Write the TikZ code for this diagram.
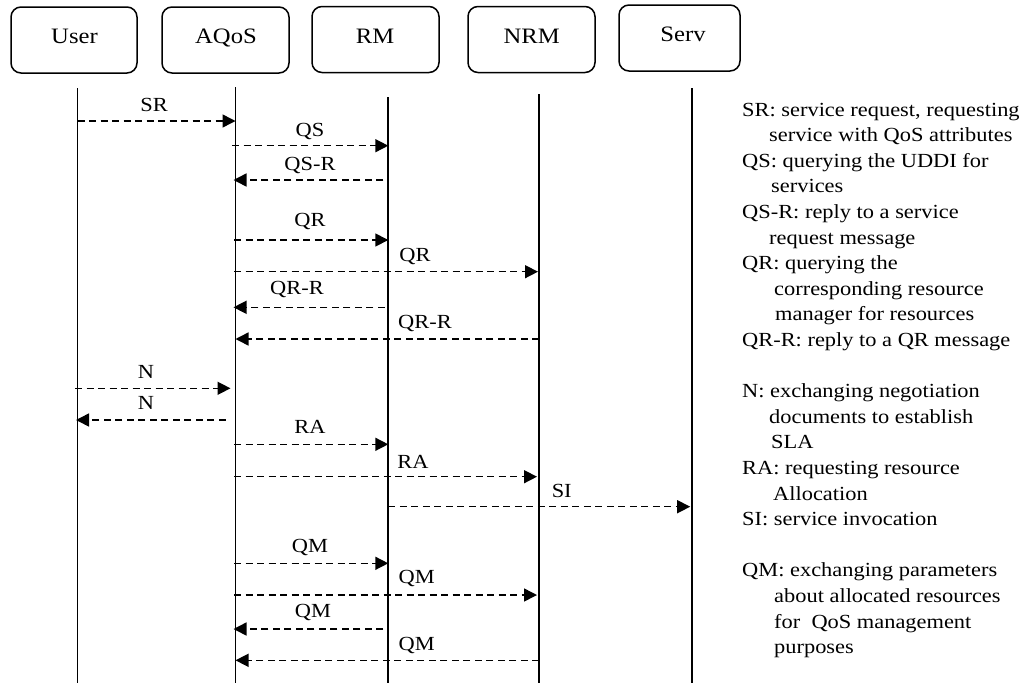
\documentclass[tikz,border=0pt]{standalone}
\usepackage{fontspec}
\setmainfont[FakeStretch=1.12]{Liberation Serif}
\usetikzlibrary{arrows.meta,calc}

\begin{document}
\begin{tikzpicture}[x=1pt,y=-1pt,
  actor/.style={draw, line width=1.5pt, rounded corners=10pt,
    minimum width=126pt, minimum height=66pt, inner sep=0pt},
  actortext/.style={anchor=base, font=\fontsize{22}{26}\selectfont, inner sep=0pt},
  lifeline/.style={line width=1.8pt},
  msg/.style={line width=1.5pt, dash pattern=on 7pt off 4.5pt,
    -{Triangle[length=13pt,width=13pt]}},
  msglabel/.style={anchor=base, font=\fontsize{20}{24}\selectfont, inner sep=0pt},
  legend/.style={anchor=base west, font=\fontsize{20}{24}\selectfont, inner sep=0pt}]

\useasboundingbox (0,0) rectangle (1024,683);

% participants
\node[actor] (userbox) at (74,40) {};
\node[actor, minimum width=127pt] (aqosbox) at (225.5,40) {};
\node[actor, minimum width=127pt] (rmbox) at (375.5,39.5) {};
\node[actor, minimum width=127pt] (nrmbox) at (531.5,39.5) {};
\node[actor, minimum width=121pt] (servbox) at (679.5,38) {};
\node[actortext] (user) at (74.5,43) {User};
\node[actortext] (aqos) at (226,43) {AQoS};
\node[actortext] (rm) at (375,43) {RM};
\node[actortext] (nrm) at (531.7,43) {NRM};
\node[actortext] (serv) at (683,41.5) {Serv};

% lifelines
\coordinate (uT) at (77.5,88);   \coordinate (uB) at (77.5,683);
\coordinate (aT) at (235.5,87);  \coordinate (aB) at (235.5,683);
\coordinate (rT) at (388.3,97);  \coordinate (rB) at (388.3,683);
\coordinate (nT) at (539,94);    \coordinate (nB) at (539,683);
\coordinate (sT) at (691.7,88);  \coordinate (sB) at (691.7,683);
\foreach \t/\b in {uT/uB,aT/aB,rT/rB,nT/nB,sT/sB}
  \draw[lifeline] (\t) -- (\b);

% messages
\draw[msg] (uT |- 0,121) -- (aT |- 0,121);
\node[msglabel] (lSR) at (154,111.7) {SR};

\draw[msg] ($(aT |- 0,145.7)+(-3.5,0)$) -- (rT |- 0,145.7);
\node[msglabel] (lQS) at (310,136.7) {QS};

\draw[msg] ($(rT |- 0,180)+(-5,0)$) -- ($(aT |- 0,180)+(-2,0)$);
\node[msglabel] (lQSR) at (310,170.7) {QS-R};

\draw[msg] ($(aT |- 0,240)+(-1.5,0)$) -- (rT |- 0,240);
\node[msglabel] (lQR1) at (310,226.7) {QR};

\draw[msg] ($(aT |- 0,271.7)+(-1.5,0)$) -- ($(nT |- 0,271.7)+(-1,0)$);
\node[msglabel] (lQR2) at (415,261.7) {QR};

\draw[msg] ($(rT |- 0,307.3)+(-3.5,0)$) -- ($(aT |- 0,307.3)+(-2,0)$);
\node[msglabel] (lQRR1) at (297,294.7) {QR-R};

\draw[msg] (nT |- 0,339) -- (aT |- 0,339);
\node[msglabel] (lQRR2) at (425,328.4) {QR-R};

\draw[msg] ($(uT |- 0,388.3)+(-2.5,0)$) -- ($(aT |- 0,388.3)+(-5,0)$);
\node[msglabel] (lN1) at (146,378.4) {N};

\draw[msg] ($(aT |- 0,420)+(-10,0)$) -- ($(uT |- 0,420)+(-1.5,0)$);
\node[msglabel] (lN2) at (146,409.7) {N};

\draw[msg] ($(aT |- 0,444.3)+(-1.5,0)$) -- (rT |- 0,444.3);
\node[msglabel] (lRA1) at (310,433.4) {RA};

\draw[msg] ($(aT |- 0,476.7)+(-1.5,0)$) -- ($(nT |- 0,476.7)+(-2,0)$);
\node[msglabel] (lRA2) at (413,468.4) {RA};

\draw[msg] (rT |- 0,506.7) -- ($(sT |- 0,506.7)+(-1.5,0)$);
\node[msglabel] (lSI) at (561.7,497.4) {SI};

\draw[msg] ($(aT |- 0,563.3)+(-1.5,0)$) -- (rT |- 0,563.3);
\node[msglabel] (lQM1) at (310,552.7) {QM};

\draw[msg] ($(aT |- 0,595)+(-1.5,0)$) -- ($(nT |- 0,595)+(-2,0)$);
\node[msglabel] (lQM2) at (416.7,583.7) {QM};

\draw[msg] ($(rT |- 0,629)+(-5,0)$) -- ($(aT |- 0,629)+(-2,0)$);
\node[msglabel] (lQM3) at (313,617.4) {QM};

\draw[msg] (nT |- 0,660.3) -- (aT |- 0,660.3);
\node[msglabel] (lQM4) at (416.7,650) {QM};

% legend
\node[legend] (g1)  at (742,116)   {SR: service request, requesting};
\node[legend] (g2)  at (769,141.6) {service with QoS attributes};
\node[legend] (g3)  at (742,167.2) {QS: querying the UDDI for};
\node[legend] (g4)  at (771,192.8) {services};
\node[legend] (g5)  at (742,218.4) {QS-R: reply to a service};
\node[legend] (g6)  at (769,244)   {request message};
\node[legend] (g7)  at (742,269.6) {QR: querying the};
\node[legend] (g8)  at (774,295.2) {corresponding resource};
\node[legend] (g9)  at (775,320.8) {manager for resources};
\node[legend] (g10) at (742,346.4) {QR-R: reply to a QR message};
\node[legend] (g11) at (742,397.6) {N: exchanging negotiation};
\node[legend] (g12) at (769,423.2) {documents to establish};
\node[legend] (g13) at (771,448.8) {SLA};
\node[legend] (g14) at (742,474.4) {RA: requesting resource};
\node[legend] (g15) at (773,500)   {Allocation};
\node[legend] (g16) at (742,525.6) {SI: service invocation};
\node[legend] (g17) at (742,576.8) {QM: exchanging parameters};
\node[legend] (g18) at (774,602.4) {about allocated resources};
\node[legend] (g19) at (774,628)   {for\ \ QoS management};
\node[legend] (g20) at (774,653.6) {purposes};
\end{tikzpicture}
\end{document}
